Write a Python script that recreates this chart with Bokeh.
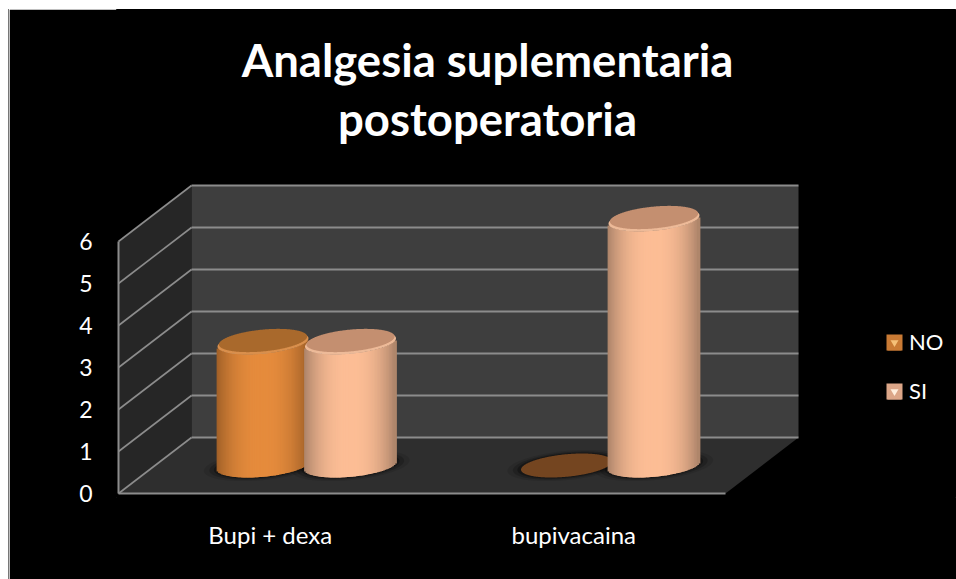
import numpy as np
from bokeh.embed import file_html
from bokeh.models import ColumnDataSource, FixedTicker, Label, Legend, LegendItem, Range1d
from bokeh.plotting import figure
from bokeh.resources import INLINE

# ---- data
categories = ["Bupi + dexa", "bupivacaina"]
series_names = ["NO", "SI"]
no_values = [3, 0]
si_values = [3, 6]
y_ticks = [0, 1, 2, 3, 4, 5, 6]
title_lines = ["Analgesia suplementaria", "postoperatoria"]

# ---- scale: pixels per category / per unit and the oblique depth of the 3D box
PX_CAT, PX_VAL = 303.5, 42.0
X0_PX, Y0_PX = 118.0, 493.0
DX, DY = 73 / PX_CAT, 56 / PX_VAL
FONT = "Lato"
W, H = 947, 570


def xd(px):
    return (px - X0_PX) / PX_CAT


def yd(py):
    return (Y0_PX - py) / PX_VAL


p = figure(width=W, height=H, output_backend="svg", toolbar_location=None,
           x_range=Range1d(xd(116), xd(956)), y_range=Range1d(yd(497), yd(9)),
           background_fill_color="black", border_fill_color="black",
           outline_line_color="black",
           min_border_left=107, min_border_right=0, min_border_top=0, min_border_bottom=82)
p.styles = {"margin-top": "9px", "margin-left": "9px", "box-shadow": "-1px 0 0 #777777"}
p.grid.visible = False

ymax = max(y_ticks)
ncat = len(categories)

# ---- walls and floor
p.patch([0, ncat, ncat + DX, DX], [0, 0, DY, DY], fill_color="#2e2e2e", line_color=None)
p.patch([0, DX, DX, 0], [0, DY, ymax + DY, ymax], fill_color="#262626", line_color=None)
p.patch([DX, DX + ncat, DX + ncat, DX], [DY, DY, ymax + DY, ymax + DY], fill_color="#3e3e3e", line_color=None)

GRID = "#8c8c8c"
p.multi_line([[DX, DX + ncat] for v in y_ticks], [[v + DY, v + DY] for v in y_ticks],
             line_color=GRID, line_width=2)
p.multi_line([[0, DX] for v in y_ticks], [[v, v + DY] for v in y_ticks],
             line_color=GRID, line_width=1.6)
p.line([0, ncat], [0, 0], line_color=GRID, line_width=2)
p.line([0, 0], [0, ymax], line_color=GRID, line_width=2)

# ---- cylinders
RX = 42.7 / PX_CAT     # radius across
RD = 12 / 56           # radius in depth
GROUP = 43.75 / PX_CAT
CYL = 41 / 42          # cylinder height per unit in the box
N = 60

PAL = {
    "NO": dict(centre=(0xE6, 0x8C, 0x3D), edge=(0xA0, 0x60, 0x28), top="#a9692c", rim="#d98f4c", flat="#744520", swatch="#c97a34", bevel="#f5c078"),
    "SI": dict(centre=(0xFD, 0xBE, 0x96), edge=(0xAC, 0x84, 0x6A), top="#c48f70", rim="#edba98", flat="#c48f70", swatch="#dca688", bevel="#ffeedd"),
}


def ellipse(cx, h, k=1.0):
    t = np.linspace(0, 2 * np.pi, 361)
    d = 0.5 + k * RD * np.sin(t)
    return cx + k * RX * np.cos(t) + d * DX, h + d * DY


def lower_arc(cx, h):
    xs, ys = ellipse(cx, h)
    xs, ys = xs[:-1], ys[:-1]
    i0 = int(np.argmin(xs))
    xs, ys = np.roll(xs, -i0), np.roll(ys, -i0)
    i1 = int(np.argmax(xs))
    a = (xs[: i1 + 1], ys[: i1 + 1])
    b = (xs[i1:], ys[i1:])
    return a if a[1].mean() < b[1].mean() else (b[0][::-1], b[1][::-1])


draw_list = []
for c in range(ncat):
    for s, vals in enumerate((no_values, si_values)):
        draw_list.append((c + 0.5 + (s - 0.5) * 2 * GROUP, vals[c], series_names[s]))

for cx, v, name in draw_list:
    for k, a in ((1.30, 0.10), (1.18, 0.18), (1.08, 0.30)):
        xs, ys = ellipse(cx, 0, k)
        p.patch(xs, ys, fill_color="#000000", fill_alpha=a, line_color=None)

for cx, v, name in draw_list:
    pal = PAL[name]
    h = v * CYL
    if v > 0:
        ax, ay = lower_arc(cx, 0)
        xl, xr = ax[0], ax[-1]
        sw = (xr - xl) / N
        xc = xl + (np.arange(N) + 0.5) * sw
        u = np.abs((xc - (xl + xr) / 2) / ((xr - xl) / 2)) ** 2.4
        col = ["#%02x%02x%02x" % tuple(int(pal["centre"][i] + (pal["edge"][i] - pal["centre"][i]) * f) for i in range(3)) for f in u]
        low = np.interp(xc, ax, ay)
        src = ColumnDataSource(dict(x=xc, bottom=low, top=low + h, c=col))
        p.vbar(x="x", bottom="bottom", top="top", width=sw * 2.2, fill_color="c", line_color=None, source=src)
        xs, ys = ellipse(cx, h)
        p.patch(xs, ys, fill_color=pal["rim"], line_color=None)
        xs, ys = ellipse(cx, h + 2.0 / PX_VAL, 0.97)
        p.patch(xs, ys, fill_color=pal["top"], line_color=None)
    else:
        xs, ys = ellipse(cx, 0)
        p.patch(xs, ys, fill_color=pal["flat"], line_color=None)

# ---- axes
p.yaxis.ticker = FixedTicker(ticks=y_ticks)
p.yaxis.axis_line_color = None
p.yaxis.major_tick_line_color = None
p.yaxis.minor_tick_line_color = None
p.yaxis.major_label_text_color = "white"
p.yaxis.major_label_text_font = FONT
p.yaxis.major_label_text_font_size = "23px"
p.yaxis.major_label_standoff = 18

p.xaxis.ticker = FixedTicker(ticks=[i + 0.5 for i in range(ncat)])
p.xaxis.major_label_overrides = {i + 0.5: categories[i] for i in range(ncat)}
p.xaxis.axis_line_color = None
p.xaxis.major_tick_line_color = None
p.xaxis.minor_tick_line_color = None
p.xaxis.major_label_text_color = "white"
p.xaxis.major_label_text_font = FONT
p.xaxis.major_label_text_font_size = "24px"
p.xaxis.major_label_standoff = 16

# ---- title
for line, py in zip(title_lines, (59, 118)):
    p.add_layout(Label(x=xd(487), y=yd(py), text=line, text_align="center", text_baseline="middle",
                       text_color="white", text_font=FONT, text_font_style="bold", text_font_size="45.5px"))

# ---- legend: a flat swatch with a small bright bevel marker drawn in the same box
items = []
for n, py in zip(series_names, (343, 392)):
    base = p.quad(left=[xd(887)], right=[xd(901)], bottom=[yd(py + 7)], top=[yd(py - 7)],
                  fill_color=PAL[n]["swatch"], line_color=None)
    bevel = p.scatter(x=[xd(894)], y=[yd(py)], marker="inverted_triangle", size=8,
                      fill_color=PAL[n]["bevel"], line_color=None)
    items.append(LegendItem(label=n, renderers=[base, bevel], index=0))

legend = Legend(
    items=items,
    location=(768, 93), orientation="vertical", glyph_width=20, glyph_height=20,
    label_standoff=5, spacing=22, padding=0, margin=0, border_line_color=None,
    background_fill_alpha=0, label_text_color="white", label_text_font=FONT,
    label_text_font_size="22px", label_height=20)
p.add_layout(legend, "center")

open("out.html", "w").write(file_html(p, INLINE))
